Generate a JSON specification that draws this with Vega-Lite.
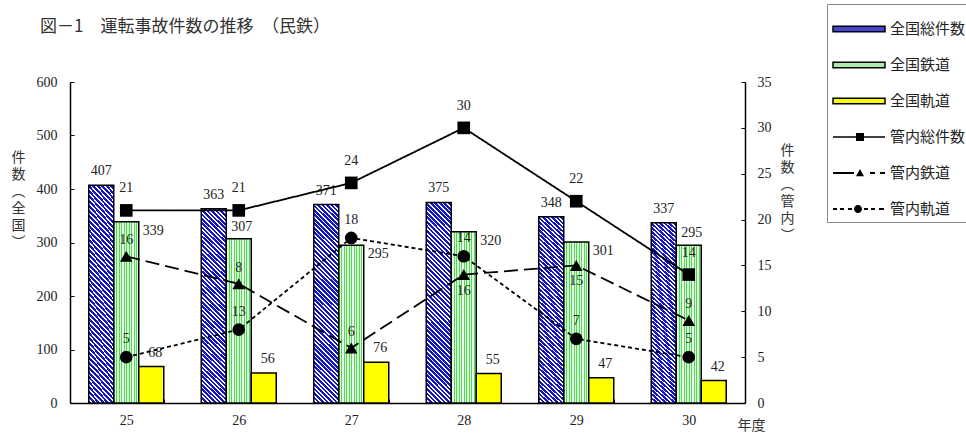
{
"$schema":"https://vega.github.io/schema/vega-lite/v6.json",
"width":675,"height":321,
"autosize":{"type":"none"},
"padding":{"left":70,"top":82,"right":221,"bottom":36},
"background":"#ffffff",
"config":{"view":{"stroke":null},
"axis":{"grid":false,"domainColor":"#000","domainWidth":1.5,"tickColor":"#000","tickWidth":1,"labelFont":"Liberation Serif","labelFontSize":14,"labelColor":"#222","titleFont":"Noto Sans CJK JP","titleFontSize":14,"titleFontWeight":"normal","titleColor":"#333"},
"text":{"font":"Liberation Serif","fontSize":14,"color":"#222"}},
"title":{"text":"図－1　運転事故件数の推移　（民鉄）","anchor":"start","frame":"group","dx":-30,"dy":42,"offset":10,"font":"Noto Sans CJK JP","fontSize":17,"fontWeight":"normal","color":"#333"},
"datasets":{
"bars":[
{"year":"25","series":"全国総件数","value":407},{"year":"25","series":"全国鉄道","value":339},{"year":"25","series":"全国軌道","value":68},
{"year":"26","series":"全国総件数","value":363},{"year":"26","series":"全国鉄道","value":307},{"year":"26","series":"全国軌道","value":56},
{"year":"27","series":"全国総件数","value":371},{"year":"27","series":"全国鉄道","value":295},{"year":"27","series":"全国軌道","value":76},
{"year":"28","series":"全国総件数","value":375},{"year":"28","series":"全国鉄道","value":320},{"year":"28","series":"全国軌道","value":55},
{"year":"29","series":"全国総件数","value":348},{"year":"29","series":"全国鉄道","value":301},{"year":"29","series":"全国軌道","value":47},
{"year":"30","series":"全国総件数","value":337},{"year":"30","series":"全国鉄道","value":295},{"year":"30","series":"全国軌道","value":42}
],
"lines":[
{"year":"25","series":"管内総件数","value":21,"label":21},{"year":"26","series":"管内総件数","value":21,"label":21},{"year":"27","series":"管内総件数","value":24,"label":24},{"year":"28","series":"管内総件数","value":30,"label":30},{"year":"29","series":"管内総件数","value":22,"label":22},{"year":"30","series":"管内総件数","value":14,"label":14},
{"year":"25","series":"管内鉄道","value":16,"label":16},{"year":"26","series":"管内鉄道","value":13,"label":8},{"year":"27","series":"管内鉄道","value":6,"label":6},{"year":"28","series":"管内鉄道","value":14,"label":16},{"year":"29","series":"管内鉄道","value":15,"label":15},{"year":"30","series":"管内鉄道","value":9,"label":9},
{"year":"25","series":"管内軌道","value":5,"label":5},{"year":"26","series":"管内軌道","value":8,"label":13},{"year":"27","series":"管内軌道","value":18,"label":18},{"year":"28","series":"管内軌道","value":16,"label":14},{"year":"29","series":"管内軌道","value":7,"label":7},{"year":"30","series":"管内軌道","value":5,"label":5}
]},
"encoding":{"x":{"field":"year","type":"ordinal","scale":{"paddingInner":0.3333,"paddingOuter":0.1667},
"axis":{"title":"年度","titleX":681,"titleY":22,"titleAngle":0,"titleAlign":"center","titleBaseline":"middle","labelAngle":0,"labelPadding":14,"tickSize":-4,"tickBand":"extent"}}},
"layer":[
{"data":{"name":"bars"},
"encoding":{
"xOffset":{"field":"series","type":"nominal","scale":{"domain":["全国総件数","全国鉄道","全国軌道"],"paddingInner":0,"paddingOuter":0}},
"y":{"field":"value","type":"quantitative","scale":{"domain":[0,600],"nice":false},
"axis":{"orient":"left","values":[0,100,200,300,400,500,600],"title":["件","数","︵","全","国","︶"],"titleAngle":0,"titleX":-52,"titleY":68,"titleAlign":"center","titleBaseline":"top","titleLineHeight":17,"tickSize":-4,"labelPadding":17}}},
"layer":[
{"transform":[{"filter":"datum.series==='全国総件数'"}],
"mark":{"type":"bar","stroke":"#000","strokeWidth":1.5,"fill":{"gradient":"linear","x1":0,"y1":1,"x2":0.1385,"y2":-0.1077,"stops":[
{"offset":0,"color":"#1515c8"},{"offset":0.012,"color":"#1515c8"},{"offset":0.012,"color":"#ffffff"},{"offset":0.02,"color":"#ffffff"},
{"offset":0.02,"color":"#1515c8"},{"offset":0.032,"color":"#1515c8"},{"offset":0.032,"color":"#ffffff"},{"offset":0.04,"color":"#ffffff"},
{"offset":0.04,"color":"#1515c8"},{"offset":0.052,"color":"#1515c8"},{"offset":0.052,"color":"#ffffff"},{"offset":0.06,"color":"#ffffff"},
{"offset":0.06,"color":"#1515c8"},{"offset":0.072,"color":"#1515c8"},{"offset":0.072,"color":"#ffffff"},{"offset":0.08,"color":"#ffffff"},
{"offset":0.08,"color":"#1515c8"},{"offset":0.092,"color":"#1515c8"},{"offset":0.092,"color":"#ffffff"},{"offset":0.10,"color":"#ffffff"},
{"offset":0.10,"color":"#1515c8"},{"offset":0.112,"color":"#1515c8"},{"offset":0.112,"color":"#ffffff"},{"offset":0.12,"color":"#ffffff"},
{"offset":0.12,"color":"#1515c8"},{"offset":0.132,"color":"#1515c8"},{"offset":0.132,"color":"#ffffff"},{"offset":0.14,"color":"#ffffff"},
{"offset":0.14,"color":"#1515c8"},{"offset":0.152,"color":"#1515c8"},{"offset":0.152,"color":"#ffffff"},{"offset":0.16,"color":"#ffffff"},
{"offset":0.16,"color":"#1515c8"},{"offset":0.172,"color":"#1515c8"},{"offset":0.172,"color":"#ffffff"},{"offset":0.18,"color":"#ffffff"},
{"offset":0.18,"color":"#1515c8"},{"offset":0.192,"color":"#1515c8"},{"offset":0.192,"color":"#ffffff"},{"offset":0.20,"color":"#ffffff"},
{"offset":0.20,"color":"#1515c8"},{"offset":0.212,"color":"#1515c8"},{"offset":0.212,"color":"#ffffff"},{"offset":0.22,"color":"#ffffff"},
{"offset":0.22,"color":"#1515c8"},{"offset":0.232,"color":"#1515c8"},{"offset":0.232,"color":"#ffffff"},{"offset":0.24,"color":"#ffffff"},
{"offset":0.24,"color":"#1515c8"},{"offset":0.252,"color":"#1515c8"},{"offset":0.252,"color":"#ffffff"},{"offset":0.26,"color":"#ffffff"},
{"offset":0.26,"color":"#1515c8"},{"offset":0.272,"color":"#1515c8"},{"offset":0.272,"color":"#ffffff"},{"offset":0.28,"color":"#ffffff"},
{"offset":0.28,"color":"#1515c8"},{"offset":0.292,"color":"#1515c8"},{"offset":0.292,"color":"#ffffff"},{"offset":0.30,"color":"#ffffff"},
{"offset":0.30,"color":"#1515c8"},{"offset":0.312,"color":"#1515c8"},{"offset":0.312,"color":"#ffffff"},{"offset":0.32,"color":"#ffffff"},
{"offset":0.32,"color":"#1515c8"},{"offset":0.332,"color":"#1515c8"},{"offset":0.332,"color":"#ffffff"},{"offset":0.34,"color":"#ffffff"},
{"offset":0.34,"color":"#1515c8"},{"offset":0.352,"color":"#1515c8"},{"offset":0.352,"color":"#ffffff"},{"offset":0.36,"color":"#ffffff"},
{"offset":0.36,"color":"#1515c8"},{"offset":0.372,"color":"#1515c8"},{"offset":0.372,"color":"#ffffff"},{"offset":0.38,"color":"#ffffff"},
{"offset":0.38,"color":"#1515c8"},{"offset":0.392,"color":"#1515c8"},{"offset":0.392,"color":"#ffffff"},{"offset":0.40,"color":"#ffffff"},
{"offset":0.40,"color":"#1515c8"},{"offset":0.412,"color":"#1515c8"},{"offset":0.412,"color":"#ffffff"},{"offset":0.42,"color":"#ffffff"},
{"offset":0.42,"color":"#1515c8"},{"offset":0.432,"color":"#1515c8"},{"offset":0.432,"color":"#ffffff"},{"offset":0.44,"color":"#ffffff"},
{"offset":0.44,"color":"#1515c8"},{"offset":0.452,"color":"#1515c8"},{"offset":0.452,"color":"#ffffff"},{"offset":0.46,"color":"#ffffff"},
{"offset":0.46,"color":"#1515c8"},{"offset":0.472,"color":"#1515c8"},{"offset":0.472,"color":"#ffffff"},{"offset":0.48,"color":"#ffffff"},
{"offset":0.48,"color":"#1515c8"},{"offset":0.492,"color":"#1515c8"},{"offset":0.492,"color":"#ffffff"},{"offset":0.50,"color":"#ffffff"},
{"offset":0.50,"color":"#1515c8"},{"offset":0.512,"color":"#1515c8"},{"offset":0.512,"color":"#ffffff"},{"offset":0.52,"color":"#ffffff"},
{"offset":0.52,"color":"#1515c8"},{"offset":0.532,"color":"#1515c8"},{"offset":0.532,"color":"#ffffff"},{"offset":0.54,"color":"#ffffff"},
{"offset":0.54,"color":"#1515c8"},{"offset":0.552,"color":"#1515c8"},{"offset":0.552,"color":"#ffffff"},{"offset":0.56,"color":"#ffffff"},
{"offset":0.56,"color":"#1515c8"},{"offset":0.572,"color":"#1515c8"},{"offset":0.572,"color":"#ffffff"},{"offset":0.58,"color":"#ffffff"},
{"offset":0.58,"color":"#1515c8"},{"offset":0.592,"color":"#1515c8"},{"offset":0.592,"color":"#ffffff"},{"offset":0.60,"color":"#ffffff"},
{"offset":0.60,"color":"#1515c8"},{"offset":0.612,"color":"#1515c8"},{"offset":0.612,"color":"#ffffff"},{"offset":0.62,"color":"#ffffff"},
{"offset":0.62,"color":"#1515c8"},{"offset":0.632,"color":"#1515c8"},{"offset":0.632,"color":"#ffffff"},{"offset":0.64,"color":"#ffffff"},
{"offset":0.64,"color":"#1515c8"},{"offset":0.652,"color":"#1515c8"},{"offset":0.652,"color":"#ffffff"},{"offset":0.66,"color":"#ffffff"},
{"offset":0.66,"color":"#1515c8"},{"offset":0.672,"color":"#1515c8"},{"offset":0.672,"color":"#ffffff"},{"offset":0.68,"color":"#ffffff"},
{"offset":0.68,"color":"#1515c8"},{"offset":0.692,"color":"#1515c8"},{"offset":0.692,"color":"#ffffff"},{"offset":0.70,"color":"#ffffff"},
{"offset":0.70,"color":"#1515c8"},{"offset":0.712,"color":"#1515c8"},{"offset":0.712,"color":"#ffffff"},{"offset":0.72,"color":"#ffffff"},
{"offset":0.72,"color":"#1515c8"},{"offset":0.732,"color":"#1515c8"},{"offset":0.732,"color":"#ffffff"},{"offset":0.74,"color":"#ffffff"},
{"offset":0.74,"color":"#1515c8"},{"offset":0.752,"color":"#1515c8"},{"offset":0.752,"color":"#ffffff"},{"offset":0.76,"color":"#ffffff"},
{"offset":0.76,"color":"#1515c8"},{"offset":0.772,"color":"#1515c8"},{"offset":0.772,"color":"#ffffff"},{"offset":0.78,"color":"#ffffff"},
{"offset":0.78,"color":"#1515c8"},{"offset":0.792,"color":"#1515c8"},{"offset":0.792,"color":"#ffffff"},{"offset":0.80,"color":"#ffffff"},
{"offset":0.80,"color":"#1515c8"},{"offset":0.812,"color":"#1515c8"},{"offset":0.812,"color":"#ffffff"},{"offset":0.82,"color":"#ffffff"},
{"offset":0.82,"color":"#1515c8"},{"offset":0.832,"color":"#1515c8"},{"offset":0.832,"color":"#ffffff"},{"offset":0.84,"color":"#ffffff"},
{"offset":0.84,"color":"#1515c8"},{"offset":0.852,"color":"#1515c8"},{"offset":0.852,"color":"#ffffff"},{"offset":0.86,"color":"#ffffff"},
{"offset":0.86,"color":"#1515c8"},{"offset":0.872,"color":"#1515c8"},{"offset":0.872,"color":"#ffffff"},{"offset":0.88,"color":"#ffffff"},
{"offset":0.88,"color":"#1515c8"},{"offset":0.892,"color":"#1515c8"},{"offset":0.892,"color":"#ffffff"},{"offset":0.90,"color":"#ffffff"},
{"offset":0.90,"color":"#1515c8"},{"offset":0.912,"color":"#1515c8"},{"offset":0.912,"color":"#ffffff"},{"offset":0.92,"color":"#ffffff"},
{"offset":0.92,"color":"#1515c8"},{"offset":0.932,"color":"#1515c8"},{"offset":0.932,"color":"#ffffff"},{"offset":0.94,"color":"#ffffff"},
{"offset":0.94,"color":"#1515c8"},{"offset":0.952,"color":"#1515c8"},{"offset":0.952,"color":"#ffffff"},{"offset":0.96,"color":"#ffffff"},
{"offset":0.96,"color":"#1515c8"},{"offset":0.972,"color":"#1515c8"},{"offset":0.972,"color":"#ffffff"},{"offset":0.98,"color":"#ffffff"},
{"offset":0.98,"color":"#1515c8"},{"offset":0.992,"color":"#1515c8"},{"offset":0.992,"color":"#ffffff"},{"offset":1,"color":"#ffffff"}
]}}},
{"transform":[{"filter":"datum.series==='全国鉄道'"}],
"mark":{"type":"bar","stroke":"#000","strokeWidth":1.5,"fill":{"gradient":"linear","x1":0,"y1":0,"x2":1,"y2":0,"stops":[
{"offset":0,"color":"#4ade4a"},{"offset":0.035,"color":"#4ade4a"},{"offset":0.035,"color":"#e8fbe8"},{"offset":0.1,"color":"#e8fbe8"},
{"offset":0.1,"color":"#4ade4a"},{"offset":0.135,"color":"#4ade4a"},{"offset":0.135,"color":"#e8fbe8"},{"offset":0.2,"color":"#e8fbe8"},
{"offset":0.2,"color":"#4ade4a"},{"offset":0.235,"color":"#4ade4a"},{"offset":0.235,"color":"#e8fbe8"},{"offset":0.3,"color":"#e8fbe8"},
{"offset":0.3,"color":"#4ade4a"},{"offset":0.335,"color":"#4ade4a"},{"offset":0.335,"color":"#e8fbe8"},{"offset":0.4,"color":"#e8fbe8"},
{"offset":0.4,"color":"#4ade4a"},{"offset":0.435,"color":"#4ade4a"},{"offset":0.435,"color":"#e8fbe8"},{"offset":0.5,"color":"#e8fbe8"},
{"offset":0.5,"color":"#4ade4a"},{"offset":0.535,"color":"#4ade4a"},{"offset":0.535,"color":"#e8fbe8"},{"offset":0.6,"color":"#e8fbe8"},
{"offset":0.6,"color":"#4ade4a"},{"offset":0.635,"color":"#4ade4a"},{"offset":0.635,"color":"#e8fbe8"},{"offset":0.7,"color":"#e8fbe8"},
{"offset":0.7,"color":"#4ade4a"},{"offset":0.735,"color":"#4ade4a"},{"offset":0.735,"color":"#e8fbe8"},{"offset":0.8,"color":"#e8fbe8"},
{"offset":0.8,"color":"#4ade4a"},{"offset":0.835,"color":"#4ade4a"},{"offset":0.835,"color":"#e8fbe8"},{"offset":0.9,"color":"#e8fbe8"},
{"offset":0.9,"color":"#4ade4a"},{"offset":0.935,"color":"#4ade4a"},{"offset":0.935,"color":"#e8fbe8"},{"offset":1,"color":"#e8fbe8"}
]}}},
{"transform":[{"filter":"datum.series==='全国軌道'"}],
"mark":{"type":"bar"},
"encoding":{"color":{"field":"series","type":"nominal",
"scale":{"domain":["全国総件数","全国鉄道","全国軌道","管内総件数","管内鉄道","管内軌道"],"range":["#4646d4","#a8eca8","#ffff00","#000000","#000000","#000000"]},
"legend":{"orient":"none","legendX":757,"legendY":-78,"title":null,"padding":5,"strokeColor":"#888888","fillColor":"#ffffff","symbolSize":1444,
"symbolStrokeWidth":1.5,
"symbolStrokeColor":{"expr":"indexof(['全国総件数','全国鉄道','全国軌道'], datum.value) >= 0 ? '#000000' : 'transparent'"},
"symbolType":{"expr":"datum.value==='管内総件数' ? 'M-1,-0.04H1.737V0.04H-1Z M0.21,-0.21H0.63V0.21H0.21Z' : datum.value==='管内鉄道' ? 'M-1,-0.05H0.105V0.05H-1Z M0.21,0.17L0.42,-0.21L0.63,0.17Z M0.947,-0.05H1.21V0.05H0.947Z M1.47,-0.05H1.737V0.05H1.47Z' : datum.value==='管内軌道' ? 'M-1,-0.05H-0.79V0.05H-1Z M-0.63,-0.05H-0.42V0.05H-0.63Z M-0.21,-0.05H0V0.05H-0.21Z M0.106,0A0.21,0.21 0 1,0 0.526,0A0.21,0.21 0 1,0 0.106,0Z M0.63,-0.05H0.84V0.05H0.63Z M1,-0.05H1.21V0.05H1Z M1.42,-0.05H1.68V0.05H1.42Z' : 'M-1,-0.15H1.737V0.15H-1Z'"},
"labelFont":"Noto Sans CJK JP","labelFontSize":15,"labelColor":"#222222","labelOffset":18,"rowPadding":8,"labelLimit":300}}}},
{"transform":[{"filter":"datum.series==='全国軌道'"}],
"mark":{"type":"bar","fill":"#ffff00","stroke":"#000","strokeWidth":1.5}},
{"transform":[{"filter":"datum.series==='全国総件数'"}],"mark":{"type":"text","baseline":"middle","dy":-14},"encoding":{"text":{"field":"value","type":"quantitative","format":"d"}}},
{"transform":[{"filter":"datum.series==='全国軌道'"}],"mark":{"type":"text","baseline":"middle","dy":-14,"dx":4},"encoding":{"text":{"field":"value","type":"quantitative","format":"d"}}},
{"transform":[{"filter":"datum.series==='全国鉄道' && (datum.year==='26' || datum.year==='30')"}],"mark":{"type":"text","baseline":"middle","dy":-12,"dx":3},"encoding":{"text":{"field":"value","type":"quantitative","format":"d"}}},
{"transform":[{"filter":"datum.series==='全国鉄道' && datum.year!=='26' && datum.year!=='30'"}],"mark":{"type":"text","baseline":"middle","dy":9,"dx":27},"encoding":{"text":{"field":"value","type":"quantitative","format":"d"}}}
]},
{"data":{"name":"lines"},
"encoding":{"y":{"field":"value","type":"quantitative","scale":{"domain":[0,35],"nice":false},
"axis":{"orient":"right","values":[0,5,10,15,20,25,30,35],"title":["件","数","︵","管","内","︶"],"titleAngle":0,"titleX":42,"titleY":61,"titleAlign":"center","titleBaseline":"top","titleLineHeight":17,"tickSize":-4,"labelPadding":16}}},
"layer":[
{"mark":{"type":"line","color":"#000000","strokeWidth":1.8},
"encoding":{"strokeDash":{"field":"series","type":"nominal","scale":{"domain":["管内総件数","管内鉄道","管内軌道"],"range":[[1,0],[14,6],[4,3]]},"legend":null}}},
{"mark":{"type":"point","filled":true,"color":"#000000","opacity":1,"size":160},
"encoding":{"shape":{"field":"series","type":"nominal","scale":{"domain":["管内総件数","管内鉄道","管内軌道"],"range":["square","triangle-up","circle"]},"legend":null}}},
{"transform":[{"filter":"datum.series==='管内総件数'"}],"mark":{"type":"text","baseline":"middle","dy":-22},"encoding":{"text":{"field":"label","type":"quantitative","format":"d"}}},
{"transform":[{"filter":"datum.series==='管内鉄道' && datum.year!=='28' && datum.year!=='29'"}],"mark":{"type":"text","baseline":"middle","dy":-16},"encoding":{"text":{"field":"label","type":"quantitative","format":"d"}}},
{"transform":[{"filter":"datum.series==='管内鉄道' && (datum.year==='28' || datum.year==='29')"}],"mark":{"type":"text","baseline":"middle","dy":16},"encoding":{"text":{"field":"label","type":"quantitative","format":"d"}}},
{"transform":[{"filter":"datum.series==='管内軌道'"}],"mark":{"type":"text","baseline":"middle","dy":-18},"encoding":{"text":{"field":"label","type":"quantitative","format":"d"}}}
]}
],
"resolve":{"scale":{"y":"independent"}}
}
